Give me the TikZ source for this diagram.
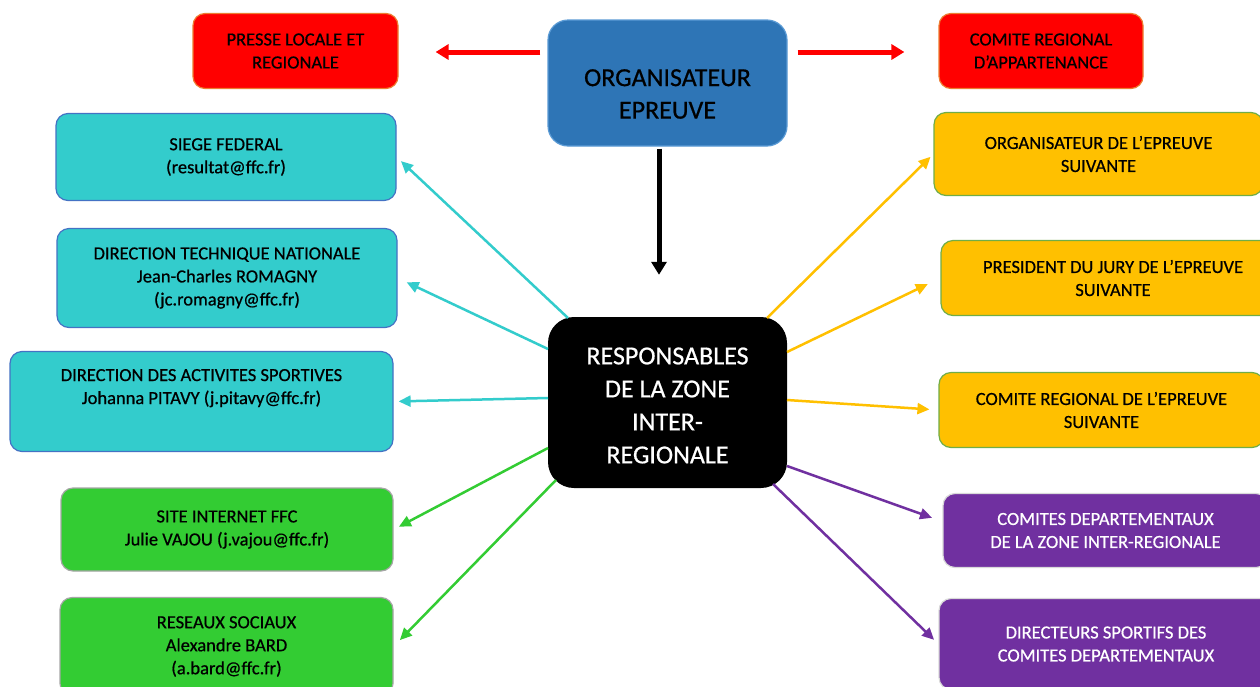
\documentclass[tikz,border=0pt]{standalone}
\usepackage{fontspec}
\setmainfont[FakeBold=0.6]{Carlito}
\usetikzlibrary{arrows.meta}
\definecolor{cred}{HTML}{FF0000}
\definecolor{credb}{HTML}{ED7D31}
\definecolor{cblue}{HTML}{2E75B6}
\definecolor{cblueb}{HTML}{5B9BD5}
\definecolor{ccyan}{HTML}{33CCCC}
\definecolor{ccyanb}{HTML}{4472C4}
\definecolor{cgreen}{HTML}{33CC33}
\definecolor{cgreenb}{HTML}{A6A6A6}
\definecolor{cyel}{HTML}{FFC000}
\definecolor{cyelb}{HTML}{70AD47}
\definecolor{cpur}{HTML}{7030A0}
\definecolor{cpurb}{HTML}{D9D9D9}
\begin{document}
\begin{tikzpicture}[x=1pt,y=-1pt,
  box/.style={rounded corners=12pt, align=center, line width=1.2pt, inner sep=0pt,
    font=\fontsize{18.5}{23}\selectfont},
  redbox/.style={box, fill=cred, draw=credb},
  cyanbox/.style={box, fill=ccyan, draw=ccyanb},
  greenbox/.style={box, fill=cgreen, draw=cgreenb},
  yelbox/.style={box, fill=cyel, draw=cyelb},
  purbox/.style={box, fill=cpur, draw=cpurb, text=white},
  bigtext/.style={align=center, inner sep=0pt, font=\fontsize{26}{32.5}\selectfont},
  thick arrow/.style={line width=5pt, -{Triangle[length=13pt,width=15pt]}},
  thin arrow/.style={line width=2.5pt, -{Triangle[length=12pt,width=11pt]}},
]
\useasboundingbox (0,0) rectangle (1260,686);
\fill[white] (0,0) rectangle (1260,686);

% top row
\node[redbox, minimum width=205pt, minimum height=75pt] (P) at (295.5,51) {PRESSE LOCALE ET\\REGIONALE};
\node[redbox, minimum width=204pt, minimum height=75pt] (CR) at (1041,51) {COMITE REGIONAL\\D’APPARTENANCE};
\node[rounded corners=20pt, fill=cblue, draw=cblueb, line width=1.2pt, minimum width=239pt, minimum height=126pt, inner sep=0pt] (OE) at (667.5,83) {};
\node[bigtext] (OEt) at (667.5,94) {ORGANISATEUR\\EPREUVE};

% centre
\node[rounded corners=26pt, fill=black, minimum width=239pt, minimum height=171pt, inner sep=0pt] (R) at (667.5,402.5) {};
\node[bigtext, text=white, font=\fontsize{26}{33}\selectfont] (Rt) at (667.5,405.5) {RESPONSABLES\\DE LA ZONE\\INTER-\\REGIONALE};

% left
\node[cyanbox, minimum width=340pt, minimum height=87pt] (SF) at (226,157) {SIEGE FEDERAL\\(resultat@ffc.fr)};
\node[cyanbox, minimum width=340pt, minimum height=99pt] (DTN) at (227,278) {DIRECTION TECHNIQUE NATIONALE\\Jean-Charles ROMAGNY\\(jc.romagny@ffc.fr)};
\node[cyanbox, minimum width=383pt, minimum height=100pt] (DAS) at (201.5,401.5) {DIRECTION DES ACTIVITES SPORTIVES\\Johanna PITAVY (j.pitavy@ffc.fr)\\\strut};
\node[greenbox, minimum width=332pt, minimum height=83pt] (SI) at (227,529.5) {SITE INTERNET FFC\\Julie VAJOU (j.vajou@ffc.fr)};
\node[greenbox, minimum width=333pt, minimum height=98pt] (RS) at (226.5,646.5) {RESEAUX SOCIAUX\\Alexandre BARD\\(a.bard@ffc.fr)};

% right
\node[yelbox, minimum width=329pt, minimum height=83pt] (OS) at (1098.5,154) {ORGANISATEUR DE L’EPREUVE\\SUIVANTE};
\node[yelbox, minimum width=344pt, minimum height=75pt] (PJ) at (1113,278) {PRESIDENT DU JURY DE L’EPREUVE\\SUIVANTE};
\node[yelbox, minimum width=325pt, minimum height=75pt] (CRS) at (1101.5,410) {COMITE REGIONAL DE L’EPREUVE\\SUIVANTE};
\node[purbox, minimum width=325pt, minimum height=74pt] (CD) at (1105.5,530.5) {COMITES DEPARTEMENTAUX\\DE LA ZONE INTER-REGIONALE};
\node[purbox, minimum width=334pt, minimum height=91pt] (DS) at (1106,644) {DIRECTEURS SPORTIFS DES\\COMITES DEPARTEMENTAUX};

% start points on the central box
\coordinate (s1) at (568,318);
\coordinate (s2) at (548,349);
\coordinate (s3) at (548,398);
\coordinate (s4) at (548,448);
\coordinate (s5) at (556,480);
\coordinate (s6) at (767,318);
\coordinate (s7) at (787,352);
\coordinate (s8) at (787,400);
\coordinate (s9) at (787,466);
\coordinate (s10) at (773,484);

% top arrows
\draw[thick arrow, cred, shorten <=7pt, shorten >=37pt] ([yshift=-1pt]OE.west |- P.east) -- ([yshift=-1pt]P.east);
\draw[thick arrow, cred, shorten <=10pt, shorten >=34pt] ([yshift=-1pt]OE.east |- CR.west) -- ([yshift=-1pt]CR.west);
\draw[thick arrow, black, shorten <=2pt, shorten >=42pt] ([xshift=-8.5pt]OE.south) -- ([xshift=-8.5pt]OE.south |- R.north);

% left arrows
\draw[thin arrow, ccyan, shorten >=6pt] (s1) -- (SF.east);
\draw[thin arrow, ccyan, shorten >=10pt] (s2) -- (DTN.east);
\draw[thin arrow, ccyan, shorten >=5pt] (s3) -- (DAS.east);
\draw[thin arrow, cgreen, shorten >=6pt] (s4) -- (SI.east);
\draw[thin arrow, cgreen, shorten >=9pt] (s5) -- (RS.east);

% right arrows
\draw[thin arrow, cyel, shorten >=4pt] (s6) -- (OS.west);
\draw[thin arrow, cyel, shorten >=14pt] (s7) -- (PJ.west);
\draw[thin arrow, cyel, shorten >=9pt] (s8) -- (CRS.west);
\draw[thin arrow, cpur, shorten >=11pt] (s9) -- ([yshift=9pt]CD.west);
\draw[thin arrow, cpur, shorten >=6pt] (s10) -- (DS.west);
\end{tikzpicture}
\end{document}
